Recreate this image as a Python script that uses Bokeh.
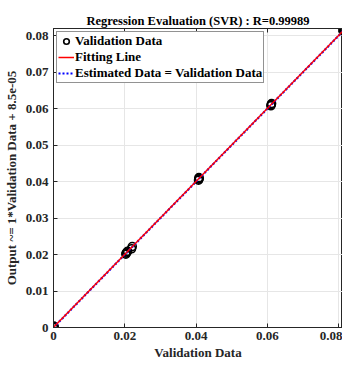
from bokeh.plotting import figure
from bokeh.models import LinearAxis, Range1d, Legend, LegendItem, FixedTicker
from bokeh.embed import file_html
from bokeh.resources import INLINE

# Data
val_x = [0.0, 0.0, 0.0001, 0.0002, 0.0203, 0.0204, 0.0206, 0.0208, 0.0219, 0.0221,
         0.0407, 0.0408, 0.0408, 0.0409, 0.0610, 0.0611, 0.0612, 0.0814, 0.0816]
val_y = [0.0, 0.0002, 0.0004, 0.0001, 0.0201, 0.0204, 0.0207, 0.0209, 0.0216, 0.0222,
         0.0404, 0.0407, 0.0411, 0.0409, 0.0608, 0.0611, 0.0614, 0.0813, 0.0817]
fit_x = [0.0, 0.0816]
slope = 1.0
intercept = 8.5e-05
fit_y = [slope * v + intercept for v in fit_x]
ident_x = [0.0, 0.0816]
ident_y = [0.0, 0.0816]
x_ticks = [0, 0.02, 0.04, 0.06, 0.08]
y_ticks = [0, 0.01, 0.02, 0.03, 0.04, 0.05, 0.06, 0.07, 0.08]

FONT = "Liberation Serif"
FS = "13px"

p = figure(width=342, height=362, output_backend="svg", toolbar_location=None,
           x_range=Range1d(0, 0.0811), y_range=Range1d(0, 0.082),
           min_border_left=44, min_border_right=0, min_border_top=28, min_border_bottom=30)

p.title.text = "Regression Evaluation (SVR) : R=0.99989"
p.title.align = "center"
p.title.text_font = FONT
p.title.text_font_size = "12.5px"
p.title.text_font_style = "bold"
p.title.text_color = "#000000"
p.title.offset = 0
p.title.standoff = 2

p.outline_line_color = "#262626"
p.outline_line_width = 1

for ax, tks in ((p.xaxis[0], x_ticks), (p.yaxis[0], y_ticks)):
    ax.ticker = FixedTicker(ticks=tks)
    ax.major_tick_in = 4
    ax.major_tick_out = 0
    ax.minor_tick_line_color = None
    ax.axis_line_color = "#262626"
    ax.major_tick_line_color = "#262626"
    ax.major_label_text_font = FONT
    ax.major_label_text_font_size = FS
    ax.major_label_text_font_style = "bold"
    ax.major_label_text_color = "#262626"
    ax.axis_label_text_font = FONT
    ax.axis_label_text_font_size = FS
    ax.axis_label_text_font_style = "bold"
    ax.axis_label_text_color = "#262626"

p.xaxis[0].axis_label = "Validation Data"
p.xaxis[0].major_label_standoff = 4
p.xaxis[0].axis_label_standoff = 2
p.yaxis[0].axis_label = "Output ~= 1*Validation Data + 8.5e-05"
p.yaxis[0].major_label_standoff = 5
p.yaxis[0].axis_label_standoff = 4

ty = LinearAxis(ticker=FixedTicker(ticks=x_ticks),
                major_label_overrides={t: "" for t in x_ticks},
                major_label_standoff=0,
                major_tick_in=4, major_tick_out=0, minor_tick_line_color=None,
                axis_line_color="#262626", major_tick_line_color="#262626")
p.add_layout(ty, "above")

p.xgrid.ticker = FixedTicker(ticks=x_ticks)
p.ygrid.ticker = FixedTicker(ticks=y_ticks)
p.grid.grid_line_color = "#e6e6e6"
p.grid.grid_line_width = 1

r_pts = p.scatter(val_x, val_y, marker="circle", size=8, fill_color=None,
                  line_color="black", line_width=1.6)
r_id = p.line(ident_x, ident_y, line_color="blue", line_width=2.2, line_dash="2 2")
r_fit = p.line(fit_x, fit_y, line_color="red", line_width=1.5)

legend = Legend(items=[LegendItem(label="Validation Data", renderers=[r_pts]),
                       LegendItem(label="Fitting Line", renderers=[r_fit]),
                       LegendItem(label="Estimated Data = Validation Data", renderers=[r_id])],
                orientation="vertical")
legend.label_text_font = FONT
legend.label_text_font_size = FS
legend.label_text_font_style = "bold"
legend.label_text_color = "#000000"
legend.label_height = 14
legend.glyph_height = 14
legend.glyph_width = 16
legend.label_standoff = 1
legend.spacing = 0
legend.padding = 1
legend.border_line_color = "#262626"
legend.border_line_width = 1
legend.background_fill_color = "white"
legend.background_fill_alpha = 1
p.add_layout(legend, "center")
legend.location = "top_left"
legend.margin = 3

open("out.html", "w").write(file_html(p, INLINE))
